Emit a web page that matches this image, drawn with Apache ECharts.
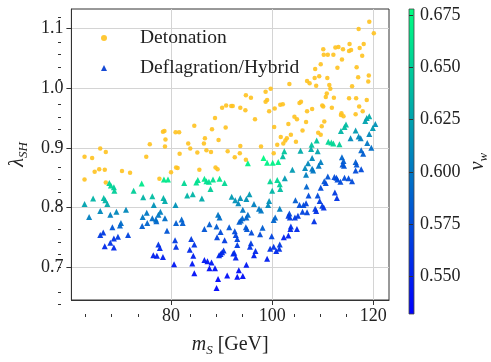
<!DOCTYPE html>
<html><head><meta charset="utf-8">
<script src="https://cdn.jsdelivr.net/npm/echarts@6/dist/echarts.min.js"></script>
<style>html,body{margin:0;padding:0;background:#fff}#c{width:491px;height:362px}</style>
</head><body><div id="c"></div>
<script>
// ---------- data ----------
const detX = [62.9,64.4,66.0,67.1,64.9,65.8,66.9,62.9,67.1,70.3,71.9,75.1,75.8,78.4,78.7,78.9,78.8,80.9,80.0,81.0,77.7,
99.7,98.7,94.8,95.8,99.0,98.7,90.9,91.9,92.2,90.1,93.7,94.7,100.5,101.6,99.4,88.7,96.6,84.6,90.8,88.1,81.6,100.4,86.7,89.4,83.4,86.5,83.8,85.2,87.0,87.9,91.2,93.7,93.6,97.8,101.0,101.7,81.7,92.6,94.8,100.3,81.3,85.6,88.8,89.2,
119.2,117.1,120.1,115.3,118.1,112.5,113.1,114.0,110.1,117.3,115.6,115.2,110.2,111.0,112.1,113.8,117.8,112.9,116.7,109.6,108.5,109.3,108.4,110.9,117.0,119.1,119.0,106.9,107.4,108.7,111.3,111.5,115.8,103.4,110.8,110.6,112.2,115.2,116.6,118.7,105.7,105.4,109.9,110.1,107.9,106.9,111.8,117.2,117.9,113.7,102.1,
104.4,104.9,103.2,106.7,110.3,109.8,106.0,109.1,109.6,103.7,104.7,102.9,102.6,102.2,113.6,114.1,116.5];
const detY = [0.885,0.883,0.899,0.893,0.860,0.864,0.863,0.847,0.842,0.861,0.858,0.885,0.906,0.927,0.928,0.914,0.902,0.926,0.859,0.867,0.848,
0.999,0.994,0.988,0.984,0.980,0.977,0.971,0.970,0.970,0.967,0.967,0.963,0.966,0.972,0.961,0.950,0.948,0.937,0.934,0.931,0.926,0.935,0.916,0.913,0.907,0.907,0.899,0.892,0.896,0.893,0.894,0.903,0.891,0.902,0.905,0.918,0.890,0.884,0.880,0.891,0.866,0.863,0.867,0.864,
1.111,1.099,1.092,1.074,1.074,1.068,1.069,1.065,1.065,1.067,1.064,1.062,1.056,1.056,1.056,1.048,1.054,1.034,1.035,1.040,1.032,1.020,1.017,1.017,1.018,1.021,1.011,1.012,1.008,1.004,1.005,0.999,1.003,1.007,0.991,0.985,0.984,0.983,0.983,0.980,0.977,0.975,0.971,0.969,0.965,0.961,0.967,0.969,0.961,0.958,0.973,
0.952,0.948,0.940,0.943,0.944,0.936,0.929,0.925,0.922,0.922,0.910,0.916,0.912,0.907,0.955,0.953,0.956];

const defX = [67.8,68.1,68.7,68.8,72.6,74.2,78.6,79.4,64.6,66.7,67.0,67.4,62.9,74.5,76.3,78.5,78.8,76.6,80.9,63.8,66.0,68.0,69.2,71.1,75.2,74.4,77.5,77.9,78.8,76.3,77.1,70.1,75.3,68.4,69.9,77.0,74.3,79.2,66.0,66.6,69.5,68.7,71.5,68.0,66.9,68.7,77.5,77.8,76.5,77.2,78.4,80.6,80.8,81.0,
95.2,98.3,99.0,100.1,101.2,82.6,85.0,85.3,86.6,87.0,87.5,87.8,88.3,89.6,90.6,83.2,84.3,86.1,92.0,92.7,93.3,93.7,94.9,95.5,96.4,97.4,97.8,99.2,99.4,99.6,101.0,101.5,100.0,101.6,101.5,
89.3,89.6,94.2,95.2,94.9,94.1,93.8,93.5,82.1,82.3,81.0,87.6,89.0,91.5,86.6,94.8,95.0,98.1,100.6,100.3,89.8,92.6,92.8,95.9,97.6,89.1,90.6,93.1,99.9,84.0,84.6,93.1,95.8,95.6,100.3,101.5,99.6,83.7,90.4,90.1,89.8,89.5,92.5,92.3,96.7,96.4,100.8,101.4,84.4,99.0,86.6,87.2,88.0,92.8,94.9,84.2,87.6,88.7,84.6,93.4,91.1,93.1,94.2,89.3,89.0,
118.7,119.2,118.4,120.4,114.6,114.3,113.6,116.5,115.5,117.1,117.5,119.2,119.9,118.8,119.6,108.8,107.8,111.1,111.7,112.1,113.3,107.7,109.0,105.6,102.4,102.1,117.6,118.0,113.8,114.1,114.2,113.9,116.5,116.7,116.5,117.6,107.9,107.1,107.9,108.1,109.6,109.2,106.5,104.0,106.7,102.5,
112.3,112.7,112.9,113.5,114.3,115.1,115.8,111.0,110.3,110.6,109.6,106.8,112.4,112.8,109.0,107.2,104.6,105.4,106.2,106.7,109.4,109.9,110.2,108.5,108.7,106.0,106.9,103.4,103.2,103.5,104.5,105.1,108.3,103.7,103.6,104.9,103.2,102.3];
const defY = [0.841,0.837,0.834,0.828,0.828,0.840,0.847,0.847,0.815,0.816,0.812,0.806,0.806,0.817,0.819,0.816,0.811,0.804,0.804,0.784,0.794,0.788,0.793,0.796,0.791,0.784,0.788,0.793,0.782,0.782,0.777,0.774,0.774,0.767,0.770,0.780,0.769,0.761,0.754,0.758,0.751,0.748,0.754,0.741,0.735,0.733,0.738,0.732,0.720,0.719,0.717,0.705,0.745,0.734,
0.874,0.883,0.875,0.875,0.876,0.841,0.842,0.846,0.848,0.844,0.843,0.831,0.847,0.848,0.841,0.820,0.822,0.815,0.818,0.812,0.807,0.816,0.814,0.822,0.806,0.798,0.795,0.804,0.811,0.844,0.846,0.839,0.828,0.831,0.798,
0.788,0.783,0.796,0.788,0.783,0.782,0.778,0.776,0.780,0.774,0.774,0.772,0.768,0.767,0.764,0.767,0.764,0.766,0.783,0.779,0.759,0.760,0.754,0.758,0.755,0.750,0.745,0.747,0.752,0.747,0.738,0.737,0.740,0.734,0.734,0.738,0.731,0.729,0.728,0.725,0.722,0.720,0.724,0.723,0.727,0.720,0.727,0.731,0.719,0.714,0.712,0.710,0.708,0.716,0.704,0.706,0.698,0.698,0.690,0.695,0.686,0.684,0.685,0.680,0.665,
0.950,0.953,0.945,0.940,0.939,0.935,0.928,0.929,0.916,0.919,0.916,0.923,0.933,0.908,0.900,0.912,0.905,0.910,0.909,0.907,0.906,0.898,0.894,0.895,0.894,0.886,0.896,0.890,0.884,0.878,0.870,0.872,0.876,0.872,0.862,0.864,0.883,0.874,0.865,0.862,0.876,0.870,0.866,0.863,0.855,0.849,
0.851,0.850,0.847,0.843,0.850,0.849,0.844,0.852,0.844,0.841,0.833,0.835,0.825,0.816,0.820,0.820,0.812,0.804,0.804,0.807,0.811,0.803,0.800,0.798,0.794,0.793,0.792,0.790,0.786,0.783,0.783,0.786,0.777,0.768,0.764,0.764,0.753,0.750];
const defVw = [0.655,0.655,0.65,0.65,0.65,0.665,0.665,0.665,0.635,0.64,0.635,0.63,0.625,0.635,0.64,0.635,0.63,0.615,0.615,0.605,0.61,0.605,0.61,0.61,0.6,0.6,0.6,0.605,0.595,0.595,0.59,0.595,0.59,0.58,0.59,0.595,0.585,0.58,0.565,0.565,0.565,0.56,0.57,0.56,0.555,0.555,0.56,0.555,0.55,0.55,0.55,0.545,0.565,0.56,
0.67,0.675,0.67,0.67,0.67,0.655,0.66,0.66,0.665,0.66,0.66,0.65,0.66,0.665,0.655,0.635,0.635,0.63,0.62,0.615,0.61,0.615,0.615,0.62,0.605,0.6,0.6,0.61,0.615,0.655,0.655,0.65,0.635,0.64,0.605,
0.6,0.595,0.6,0.595,0.59,0.59,0.59,0.585,0.59,0.585,0.585,0.585,0.585,0.58,0.58,0.58,0.58,0.585,0.59,0.59,0.575,0.575,0.57,0.575,0.575,0.57,0.565,0.57,0.57,0.565,0.56,0.565,0.565,0.56,0.56,0.565,0.56,0.555,0.56,0.555,0.555,0.555,0.555,0.555,0.555,0.55,0.555,0.56,0.55,0.55,0.545,0.545,0.545,0.55,0.545,0.545,0.54,0.54,0.54,0.54,0.54,0.54,0.54,0.535,0.535,
0.625,0.63,0.625,0.615,0.64,0.64,0.635,0.62,0.61,0.61,0.605,0.61,0.62,0.6,0.595,0.645,0.645,0.655,0.655,0.655,0.65,0.63,0.625,0.63,0.645,0.64,0.59,0.585,0.59,0.585,0.58,0.58,0.585,0.58,0.575,0.575,0.61,0.61,0.6,0.6,0.605,0.6,0.61,0.62,0.605,0.62,
0.575,0.575,0.575,0.575,0.575,0.575,0.575,0.58,0.58,0.575,0.575,0.59,0.565,0.56,0.575,0.575,0.585,0.575,0.575,0.57,0.565,0.565,0.56,0.565,0.56,0.57,0.57,0.575,0.565,0.565,0.565,0.565,0.56,0.56,0.555,0.555,0.55,0.55];

const xTicks = [80, 100, 120];
const xMinor = [65, 70, 75, 85, 90, 95, 105, 110, 115];
const yTicks = [0.7, 0.8, 0.9, 1.0, 1.1];
const yMinor = [0.66, 0.68, 0.72, 0.74, 0.76, 0.78, 0.82, 0.84, 0.86, 0.88, 0.92, 0.94, 0.96, 0.98, 1.02, 1.04, 1.06, 1.08, 1.12];
const cbTicks = [0.550, 0.575, 0.600, 0.625, 0.650, 0.675];
const seriesNames = ['Detonation', 'Deflagration/Hybrid'];

// ---------- chart ----------
const FONT = "'Liberation Serif', 'DejaVu Serif', serif";
const TXT = '#222';
const DET_COLOR = '#ffc21f';
const detData = detX.map((x, i) => [x, detY[i]]);
const defData = defX.map((x, i) => [x, defY[i], defVw[i]]);
const X0 = 60.3, X1 = 123.1, Y0 = 0.645, Y1 = 1.1325, V0 = 0.532, V1 = 0.678;
const gridPos = {left: 61, top: 9, width: 328, height: 305};
const subStyle = {fontFamily: FONT, fontStyle: 'italic', fontSize: 13, color: TXT, verticalAlign: 'bottom', lineHeight: 14};
const mainIt = {fontFamily: FONT, fontStyle: 'italic', fontSize: 20, color: TXT, verticalAlign: 'top', lineHeight: 22};
const numRich = {t: {fontFamily: FONT, fontSize: 18, color: TXT}};
const legRich = {t: {fontFamily: FONT, fontSize: 19.5, color: TXT}};
const wrap = s => '{t|' + s + '}';

const chart = echarts.init(document.getElementById('c'), null, {renderer: 'canvas'});
chart.setOption({
  animation: false,
  backgroundColor: '#fff',
  textStyle: {fontFamily: FONT},
  grid: [
    Object.assign({show: true, borderColor: '#333', borderWidth: 1, containLabel: false}, gridPos),
    Object.assign({show: false, containLabel: false}, gridPos),
    {show: true, left: 409, top: 9, width: 16, height: 305, borderColor: '#444', borderWidth: 0.8,
     backgroundColor: {type: 'linear', x: 0, y: 0, x2: 0, y2: 1,
       colorStops: [{offset: 0, color: '#00ff80'}, {offset: 1, color: '#0000ff'}]}}
  ],
  xAxis: [
    {gridIndex: 0, type: 'value', min: X0, max: X1, interval: 20,
     axisLine: {show: true, lineStyle: {color: '#333'}},
     axisTick: {show: true, customValues: xTicks, length: 5, inside: false, lineStyle: {color: '#333'}},
     axisLabel: {customValues: xTicks, margin: 7, formatter: v => wrap(String(v)), rich: numRich},
     splitLine: {show: true, lineStyle: {color: '#d4d4d4', width: 1}},
     name: '{m|m}{s|S} {g|[GeV]}', nameLocation: 'middle', nameGap: 35,
     nameTextStyle: {rich: {m: mainIt, s: Object.assign({}, subStyle, {padding: [0, 2, 0, 0]}),
       g: {fontFamily: FONT, fontSize: 20, color: TXT, verticalAlign: 'top', lineHeight: 22}}}},
    {gridIndex: 1, type: 'value', min: X0, max: X1,
     axisLine: {show: false}, axisLabel: {show: false}, splitLine: {show: false},
     axisTick: {show: true, customValues: xMinor, length: 3, lineStyle: {color: '#333'}}},
    {gridIndex: 2, type: 'value', min: 0, max: 1, show: false}
  ],
  yAxis: [
    {gridIndex: 0, type: 'value', min: Y0, max: Y1, interval: 0.1,
     axisLine: {show: true, lineStyle: {color: '#333'}},
     axisTick: {show: true, customValues: yTicks, length: 5, lineStyle: {color: '#333'}},
     axisLabel: {customValues: yTicks, margin: 8, formatter: v => wrap(v.toFixed(1)), rich: numRich},
     splitLine: {show: true, lineStyle: {color: '#d4d4d4', width: 1}},
     name: '{l|λ}{s|SH}', nameLocation: 'middle', nameGap: 31, nameRotate: 90,
     nameTextStyle: {rich: {l: mainIt, s: subStyle}}},
    {gridIndex: 1, type: 'value', min: Y0, max: Y1,
     axisLine: {show: false}, axisLabel: {show: false}, splitLine: {show: false},
     axisTick: {show: true, customValues: yMinor, length: 3, lineStyle: {color: '#333'}}},
    {gridIndex: 2, type: 'value', min: V0, max: V1, position: 'right',
     axisLine: {show: false}, splitLine: {show: false},
     axisTick: {show: true, customValues: cbTicks, length: 4, lineStyle: {color: '#333'}},
     axisLabel: {customValues: cbTicks, margin: 6, formatter: v => wrap(v.toFixed(3)), rich: numRich},
     name: '{v|v}{s|w}', nameLocation: 'middle', nameGap: 54, nameRotate: 90,
     nameTextStyle: {rich: {v: mainIt, s: subStyle}}}
  ],
  visualMap: [{type: 'continuous', show: false, seriesIndex: 1, dimension: 2, min: V0, max: V1,
    inRange: {color: ['#0000ff', '#00ff80']}}],
  legend: {left: 96, top: 23, orient: 'vertical', itemWidth: 6, itemHeight: 6, itemGap: 10,
    formatter: name => wrap(name),
    textStyle: {padding: [0, 0, 0, 28], lineHeight: 19, rich: legRich},
    data: [{name: seriesNames[0], icon: 'circle', itemStyle: {color: DET_COLOR}},
           {name: seriesNames[1], icon: 'triangle', itemStyle: {color: '#0a3fd2'}}]},
  series: [
    {name: seriesNames[0], type: 'scatter', xAxisIndex: 0, yAxisIndex: 0, data: detData,
     symbol: 'circle', symbolSize: 4.5, itemStyle: {color: DET_COLOR, opacity: 0.9}},
    {name: seriesNames[1], type: 'scatter', xAxisIndex: 0, yAxisIndex: 0, data: defData,
     symbol: 'triangle', symbolSize: 6, itemStyle: {color: '#0a3fd2', opacity: 0.95}}
  ]
});
</script></body></html>
